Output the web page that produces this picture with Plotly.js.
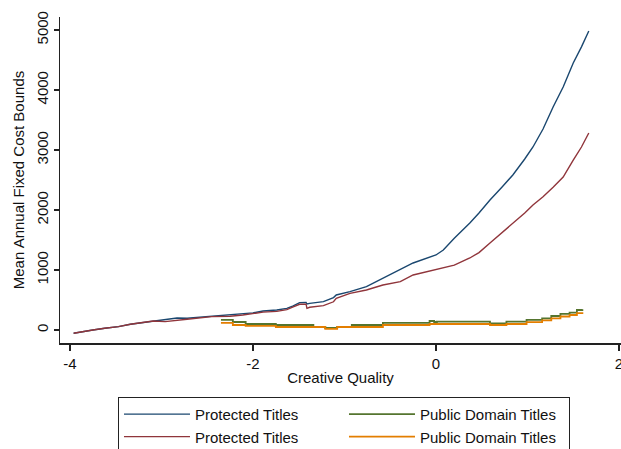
<!DOCTYPE html>
<html>
<head>
<meta charset="utf-8">
<script src="https://cdn.plot.ly/plotly-3.0.1.min.js"></script>
<style>html,body{margin:0;padding:0;background:#fff;}</style>
</head>
<body>
<div id="chart" style="width:621px;height:449px;"></div>
<script>
// Protected titles (upper bound, blue) and (lower bound, red)
const protX = [-3.96, -3.87, -3.75, -3.62, -3.47, -3.34, -3.20, -3.09, -2.96, -2.83, -2.72, -2.45, -2.25, -2.11, -2.00, -1.89, -1.74, -1.63, -1.56, -1.49, -1.42, -1.41, -1.38, -1.23, -1.12, -1.09, -0.94, -0.76, -0.58, -0.39, -0.25, 0.00, 0.08, 0.20, 0.37, 0.47, 0.59, 0.72, 0.84, 0.97, 1.06, 1.17, 1.28, 1.39, 1.50, 1.59, 1.67];
const protUpper = [-55, -28, 0, 28, 55, 95, 122, 150, 167, 200, 195, 233, 261, 270, 285, 317, 333, 361, 400, 456, 460, 433, 444, 472, 540, 583, 639, 722, 861, 1000, 1117, 1250, 1333, 1530, 1783, 1950, 2167, 2380, 2583, 2850, 3050, 3350, 3717, 4050, 4450, 4720, 4983];
const protLower = [-55, -28, 0, 28, 55, 95, 122, 150, 139, 165, 180, 222, 230, 250, 278, 297, 310, 340, 385, 428, 430, 361, 378, 405, 470, 528, 611, 667, 750, 805, 917, 1010, 1033, 1080, 1200, 1290, 1450, 1620, 1780, 1950, 2083, 2220, 2380, 2550, 2830, 3050, 3283];
// Public domain titles (green, orange)
const pubX = [-2.35, -2.22, -2.08, -1.75, -1.34, -1.21, -1.08, -0.92, -0.58, -0.07, -0.02, 0.01, 0.59, 0.77, 0.99, 1.16, 1.26, 1.36, 1.46, 1.54, 1.60];
const pubUpper = [167, 133, 100, 83, 50, 33, 50, 83, 117, 150, 133, 139, 111, 139, 167, 195, 233, 267, 289, 333, 345];
const pubLower = [117, 83, 67, 50, 50, 20, 50, 50, 83, 100, 100, 100, 83, 100, 130, 160, 195, 225, 250, 280, 295];

const seriesNames = ["Protected Titles", "Public Domain Titles", "Protected Titles", "Public Domain Titles"];
const xTicks = [-4, -2, 0, 2];
const yTicks = [0, 1000, 2000, 3000, 4000, 5000];

const FONT = "Liberation Sans, Arial, sans-serif";

const traces = [
  {x: protX, y: protUpper, name: seriesNames[0], mode: "lines", line: {color: "#1a476f", width: 1.4}},
  {x: pubX, y: pubUpper, name: seriesNames[1], mode: "lines", line: {color: "#55752f", width: 1.8, shape: "hv"}},
  {x: protX, y: protLower, name: seriesNames[2], mode: "lines", line: {color: "#90353b", width: 1.4}},
  {x: pubX, y: pubLower, name: seriesNames[3], mode: "lines", line: {color: "#e37e00", width: 1.8, shape: "hv"}}
];

const layout = {
  width: 621, height: 449,
  margin: {l: 60, r: 0, t: 17, b: 106},
  paper_bgcolor: "#fff", plot_bgcolor: "#fff",
  font: {family: FONT, size: 15, color: "#111"},
  showlegend: true,
  xaxis: {
    range: [-4.109, 2.022], tickvals: xTicks, ticktext: xTicks.map(String),
    showgrid: false, zeroline: false, showline: true, linecolor: "#222", linewidth: 1.5,
    ticks: "outside", ticklen: 6, tickwidth: 1.5, tickcolor: "#222",
    ticklabeloverflow: "allow",
    tickfont: {family: FONT, size: 15, color: "#111"},
    title: {text: "Creative Quality", font: {family: FONT, size: 15, color: "#111"}, standoff: 2},
    automargin: false
  },
  yaxis: {
    range: [-217, 5217], tickvals: yTicks, ticktext: yTicks.map(String),
    showgrid: false, zeroline: false, showline: true, linecolor: "#222", linewidth: 1.5,
    ticks: "outside", ticklen: 5, tickwidth: 1.5, tickcolor: "#222", tickangle: -90,
    tickfont: {family: FONT, size: 15, color: "#111"},
    title: {text: "Mean Annual Fixed Cost Bounds", font: {family: FONT, size: 15, color: "#111"}, standoff: 5},
    automargin: false
  },
  legend: {
    orientation: "h", xref: "container", yref: "container",
    x: 0.19, xanchor: "left", y: 0.116, yanchor: "top",
    bordercolor: "#222", borderwidth: 1, bgcolor: "#fff",
    entrywidth: 144, entrywidthmode: "pixels",
    font: {family: FONT, size: 15, color: "#111"},
    traceorder: "normal", itemwidth: 66
  }
};

Plotly.newPlot("chart", traces, layout, {staticPlot: true, displayModeBar: false});
</script>
</body>
</html>
